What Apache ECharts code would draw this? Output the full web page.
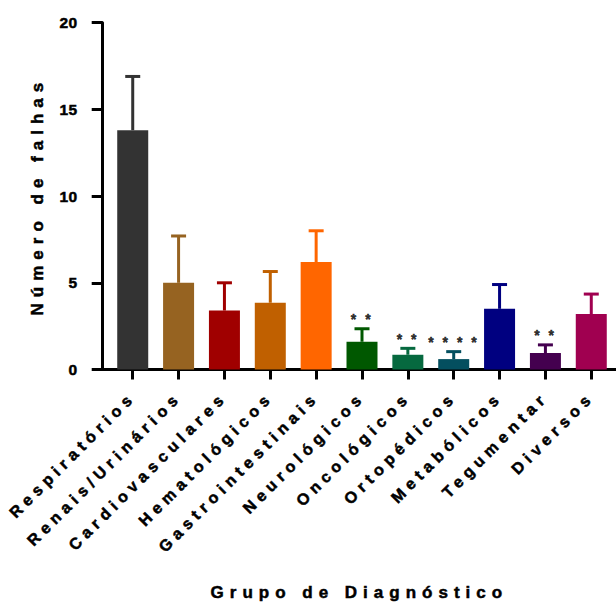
<!DOCTYPE html>
<html>
<head>
<meta charset="utf-8">
<script src="https://cdn.jsdelivr.net/npm/echarts@6/dist/echarts.min.js"></script>
<style>
  html, body { margin: 0; padding: 0; background: #fff; }
  #chart { width: 616px; height: 606px; }
  /* wide letter tracking on the chart texts (SVG renderer) */
  #chart text { letter-spacing: 0.35em; }
  #chart text[style*="15.5px"] { letter-spacing: 0.5px; }
  #chart text[style*="16px"] { letter-spacing: 5.2px; }
  #chart text[style*="14px"] { letter-spacing: 2.5px; }
  #chart text[style*="17px"] { letter-spacing: 6px; }
</style>
</head>
<body>
<div id="chart"></div>
<script>
// Failures per diagnostic group: mean and upper error
const categories = ['Respiratórios', 'Renais/Urinários', 'Cardiovasculares', 'Hematológicos',
  'Gastrointestinais', 'Neurológicos', 'Oncológicos', 'Ortopédicos', 'Metabólicos',
  'Tegumentar', 'Diversos'];
const means = [13.8, 5.0, 3.4, 3.85, 6.2, 1.6, 0.85, 0.6, 3.5, 0.95, 3.2];
const upperErrors = [3.1, 2.7, 1.6, 1.8, 1.8, 0.75, 0.37, 0.43, 1.4, 0.47, 1.15];
const significance = ['', '', '', '', '', '* *', '* *', '* * * *', '', '* *', ''];
const barColors = ['#333333', '#966321', '#a00000', '#c06000', '#ff6600', '#005800',
  '#06693f', '#044f5f', '#000080', '#44004f', '#a00050'];
const yMin = 0, yMax = 20, yStep = 5;

const chart = echarts.init(document.getElementById('chart'), null, { renderer: 'svg' });

const font = 'Liberation Sans, Arial, sans-serif';
const gridTop = 22.7, gridBottom = 236.5;
const heavy = { fontFamily: font, fontWeight: 'bold', color: '#000', textBorderColor: '#000', textBorderWidth: 0.5 };

const barData = means.map((v, i) => ({ value: v, itemStyle: { color: barColors[i] } }));
const errData = means.map((v, i) => [i, v, v + upperErrors[i]]);
const starData = [];
significance.forEach((s, i) => {
  if (s) starData.push({ value: [i, means[i] + upperErrors[i]], stars: s });
});

chart.setOption({
  animation: false,
  backgroundColor: '#fff',
  grid: [
    { left: 102.7, right: 0, top: gridTop, bottom: gridBottom },
    { left: 109.8, right: 1.8, top: gridTop, bottom: gridBottom }
  ],
  xAxis: [
    {
      gridIndex: 0, type: 'value', min: 0, max: 1,
      axisLine: { show: true, lineStyle: { color: '#000', width: 3 } },
      axisTick: { show: false }, axisLabel: { show: false }, splitLine: { show: false },
      name: 'Grupo de Diagnóstico', nameLocation: 'middle', nameGap: 214,
      nameTextStyle: Object.assign({ fontSize: 17 }, heavy)
    },
    {
      gridIndex: 1, type: 'category', data: categories,
      axisLine: { show: false },
      axisTick: { show: true, alignWithLabel: true, length: 10, lineStyle: { color: '#000', width: 3 } },
      axisLabel: Object.assign({ interval: 0, rotate: 45, margin: 25, fontSize: 16 }, heavy),
      splitLine: { show: false }
    }
  ],
  yAxis: [
    {
      gridIndex: 0, type: 'value', min: yMin, max: yMax, interval: yStep,
      axisLine: { show: true, lineStyle: { color: '#000', width: 3 } },
      axisTick: { show: true, length: 11, lineStyle: { color: '#000', width: 3 } },
      axisLabel: Object.assign({ margin: 25, fontSize: 15.5 }, heavy),
      splitLine: { show: false },
      name: 'Número de falhas', nameLocation: 'middle', nameGap: 57, nameRotate: 90,
      nameTextStyle: Object.assign({ fontSize: 17 }, heavy)
    },
    { gridIndex: 1, type: 'value', min: yMin, max: yMax, show: false }
  ],
  series: [
    {
      type: 'bar', xAxisIndex: 1, yAxisIndex: 1, barWidth: 31, silent: true,
      data: barData
    },
    {
      type: 'custom', xAxisIndex: 1, yAxisIndex: 1, silent: true,
      encode: { x: 0, y: [1, 2] },
      data: errData,
      renderItem(params, api) {
        const i = api.value(0);
        const base = api.coord([i, api.value(1)]);
        const top = api.coord([i, api.value(2)]);
        const color = barColors[params.dataIndex];
        return {
          type: 'group',
          children: [
            { type: 'line', shape: { x1: base[0], y1: base[1], x2: top[0], y2: top[1] },
              style: { stroke: color, lineWidth: 3 } },
            { type: 'line', shape: { x1: top[0] - 7.5, y1: top[1], x2: top[0] + 7.5, y2: top[1] },
              style: { stroke: color, lineWidth: 3 } }
          ]
        };
      }
    },
    {
      type: 'scatter', xAxisIndex: 1, yAxisIndex: 1, silent: true,
      symbolSize: 0,
      data: starData,
      label: Object.assign({
        show: true, position: 'top', distance: 2.5,
        formatter: p => p.data.stars, fontSize: 14
      }, heavy)
    }
  ]
});
</script>
</body>
</html>
